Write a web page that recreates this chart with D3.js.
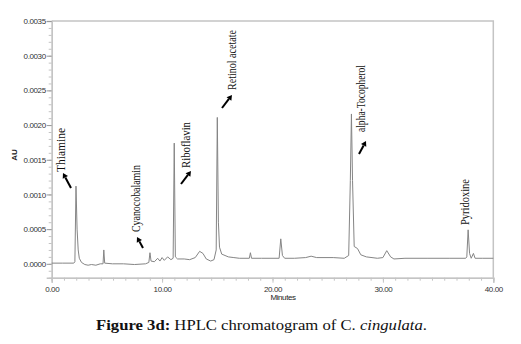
<!DOCTYPE html>
<html>
<head>
<meta charset="utf-8">
<script src="https://cdn.jsdelivr.net/npm/d3@7"></script>
<style>
  body { margin: 0; background: #fff; }
  svg { display: block; }
</style>
</head>
<body>
<script>
"use strict";
// chromatogram trace (minutes, AU)
var times = [0, 1.0, 2.0, 2.1, 2.2, 2.3, 2.4, 2.5, 2.7, 3.0, 3.3, 3.6, 4.0, 4.4, 4.65, 4.72, 4.8, 5.5, 6.5, 7.5, 8.5, 8.8, 8.9, 9.0, 9.3, 9.6, 9.8, 10.0, 10.2, 10.5, 10.8, 11.0, 11.1, 11.2, 11.4, 12.0, 12.5, 13.0, 13.4, 13.7, 14.0, 14.4, 14.7, 14.9, 15.0, 15.1, 15.2, 15.4, 15.7, 16.0, 16.5, 17.0, 17.9, 18.0, 18.1, 19.0, 20.6, 20.75, 20.9, 21.1, 22.0, 23.0, 23.5, 24.0, 25.5, 26.5, 26.9, 27.05, 27.15, 27.25, 27.4, 27.7, 28.0, 28.5, 29.5, 30.0, 30.35, 30.7, 31.0, 32.0, 34.0, 36.0, 37.5, 37.6, 37.72, 37.85, 38.0, 38.2, 38.35, 39.0, 40.0];
var au = [0.00001, 0.00001, 0.00001, 0.00003, 0.00112, 0.0005, 0.0002, 0.00008, 0.00002, -0.00001, -0.00002, -0.00001, -0.00002, 0.0, 0.0, 0.0002, 0.00001, 0.0, 0.0, -0.00001, 0.0, 0.00002, 0.00016, 0.00004, 0.00003, 0.00008, 0.00004, 0.00009, 0.00005, 0.0001, 0.00006, 0.00008, 0.00174, 0.0001, 0.00007, 0.00007, 0.00006, 0.00009, 0.00018, 0.00015, 0.00007, 0.00004, 0.00006, 0.0002, 0.00211, 0.0006, 0.00024, 0.00014, 0.00012, 0.0001, 0.00009, 0.00008, 0.00008, 0.00016, 0.00008, 0.00008, 0.00008, 0.00036, 0.00012, 0.00008, 0.00008, 0.00009, 0.00011, 0.00009, 0.00009, 0.00008, 0.00012, 0.0012, 0.00216, 0.0012, 0.00025, 0.00022, 0.00013, 0.0001, 0.00008, 0.00009, 0.00019, 0.0001, 0.00007, 0.00008, 0.00008, 0.00008, 0.00008, 0.0001, 0.00049, 0.00015, 0.00008, 0.00015, 0.00008, 0.00008, 0.00008];

var peakNames = ["Thiamine", "Cyanocobalamin", "Riboflavin", "Retinol acetate", "alpha-Tocopherol", "Pyridoxine"];
var peakTimes = [2.2, 8.9, 11.1, 15.0, 27.15, 37.72];

var xTicks = [0, 10, 20, 30, 40];
var yTicks = [0, 0.0005, 0.0010, 0.0015, 0.0020, 0.0025, 0.0030, 0.0035];

var W = 521, H = 344;
var mLeft = 51.7, mRight = 493.3, mTop = 21, mBottom = 277.7;

var svg = d3.select("body").append("svg")
    .attr("width", W)
    .attr("height", H);

var x = d3.scaleLinear().domain([0, 40]).range([mLeft, mRight]);
var y = d3.scaleLinear().domain([-0.0002, 0.0035]).range([mBottom, mTop]);

var axisColor = "#c4c4c4";

// frame (top and right)
svg.append("path")
    .attr("d", "M" + mLeft + "," + mTop + "H" + mRight + "V" + mBottom)
    .attr("fill", "none")
    .attr("stroke", axisColor)
    .attr("stroke-width", 1.5);

// y axis with minor ticks
var yMinor = d3.range(-0.0001, 0.00351, 0.0001);
var yAxis = d3.axisLeft(y).tickValues(yMinor).tickSize(3).tickFormat("");
svg.append("g").attr("transform", "translate(" + mLeft + ",0)").call(yAxis)
    .call(function(g) { g.selectAll("line,path").attr("stroke", axisColor); });
var yMajor = d3.axisLeft(y).tickValues(yTicks).tickSize(5).tickPadding(1)
    .tickFormat(d3.format(".4f"));
svg.append("g").attr("transform", "translate(" + mLeft + ",0)").call(yMajor)
    .call(function(g) {
        g.select(".domain").attr("stroke", axisColor).attr("stroke-width", 1.5);
        g.selectAll("line").attr("stroke", "#999");
        g.selectAll("text").attr("fill", "#333")
            .style("font-family", "Liberation Sans, Arial, sans-serif")
            .style("font-size", "8px").style("letter-spacing", "-0.4px");
    });

// x axis, 9 minor steps per major step
var xMinor = d3.range(0, 37).map(function(i) { return i * 10 / 9; });
svg.append("g").attr("transform", "translate(0," + mBottom + ")")
    .call(d3.axisBottom(x).tickValues(xMinor).tickSize(3).tickFormat(""))
    .call(function(g) { g.selectAll("line,path").attr("stroke", axisColor); });
svg.append("g").attr("transform", "translate(0," + mBottom + ")")
    .call(d3.axisBottom(x).tickValues(xTicks).tickSize(5).tickPadding(4)
        .tickFormat(d3.format(".2f")))
    .call(function(g) {
        g.select(".domain").attr("stroke", axisColor).attr("stroke-width", 1.5);
        g.selectAll("line").attr("stroke", axisColor);
        g.selectAll("text").attr("fill", "#333")
            .style("font-family", "Liberation Sans, Arial, sans-serif")
            .style("font-size", "8px").style("letter-spacing", "-0.4px");
    });

// axis titles
svg.append("text")
    .attr("transform", "translate(17,155) rotate(-90)")
    .attr("text-anchor", "middle")
    .style("font-family", "Liberation Sans, Arial, sans-serif")
    .style("font-size", "8px").style("font-weight", "bold")
    .attr("fill", "#222")
    .text("AU");
svg.append("text")
    .attr("x", 283).attr("y", 300)
    .attr("text-anchor", "middle")
    .style("font-family", "Liberation Sans, Arial, sans-serif")
    .style("font-size", "8px").style("letter-spacing", "-0.4px")
    .attr("fill", "#222")
    .text("Minutes");

// trace
var trace = times.map(function(t, i) { return [t, au[i]]; });
svg.append("path")
    .datum(trace)
    .attr("fill", "none")
    .attr("stroke", "#858585")
    .attr("stroke-width", 1)
    .attr("d", d3.line().x(function(d) { return x(d[0]); }).y(function(d) { return y(d[1]); }));

// peak labels: offset of baseline from peak x, start y, length
var labelLayout = [
    { dx: -11, y0: 172, len: 44, arrow: [71, 188, 63, 173] },
    { dx: -10, y0: 232, len: 67, arrow: [143, 248, 137, 237] },
    { dx: 16, y0: 168, len: 46, arrow: [181, 184, 191, 171] },
    { dx: 19, y0: 90, len: 60, arrow: [222, 108, 232, 95] },
    { dx: 14, y0: 132, len: 67, arrow: [359, 154, 366, 141] },
    { dx: 1, y0: 225, len: 46, arrow: null }
];

var ann = svg.append("g");
peakNames.forEach(function(name, i) {
    var l = labelLayout[i];
    var px = x(peakTimes[i]) + l.dx;
    ann.append("text")
        .attr("transform", "translate(" + px + "," + l.y0 + ") rotate(-90)")
        .attr("textLength", l.len)
        .attr("lengthAdjust", "spacingAndGlyphs")
        .style("font-family", "Liberation Serif, Times New Roman, serif")
        .style("font-size", "13px")
        .attr("fill", "#111")
        .text(name);
    if (l.arrow) {
        var a = l.arrow;
        var ang = Math.atan2(a[3] - a[1], a[2] - a[0]);
        var hl = 5, hw = 3;
        var bx = a[2] - hl * Math.cos(ang), by = a[3] - hl * Math.sin(ang);
        ann.append("line")
            .attr("x1", a[0]).attr("y1", a[1]).attr("x2", bx).attr("y2", by)
            .attr("stroke", "#000").attr("stroke-width", 2);
        ann.append("path")
            .attr("d", "M" + a[2] + "," + a[3] +
                "L" + (bx + hw * Math.sin(ang)) + "," + (by - hw * Math.cos(ang)) +
                "L" + (bx - hw * Math.sin(ang)) + "," + (by + hw * Math.cos(ang)) + "Z")
            .attr("fill", "#000");
    }
});

// caption
var cap = svg.append("text")
    .attr("x", 96).attr("y", 330)
    .attr("textLength", 331)
    .attr("lengthAdjust", "spacingAndGlyphs")
    .style("font-family", "Liberation Serif, Times New Roman, serif")
    .style("font-size", "15px")
    .attr("fill", "#111");
cap.append("tspan").style("font-weight", "bold").text("Figure 3d:");
cap.append("tspan").text(" HPLC chromatogram of C. ");
cap.append("tspan").style("font-style", "italic").text("cingulata");
cap.append("tspan").text(".");
</script>
</body>
</html>
